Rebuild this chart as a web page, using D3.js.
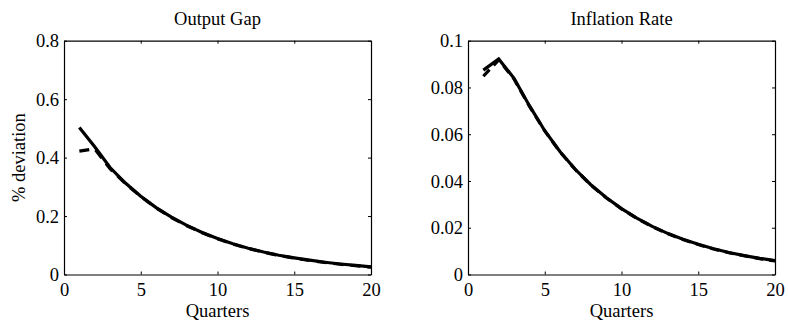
<!DOCTYPE html>
<html>
<head>
<meta charset="utf-8">
<script src="https://cdn.jsdelivr.net/npm/d3@7"></script>
<style>
  html, body { margin: 0; padding: 0; background: #fff; }
  svg { display: block; }
  svg text { font-family: "Liberation Serif", "Times New Roman", serif !important; fill: #000; }
</style>
</head>
<body>
<svg id="chart" width="788" height="324"></svg>
<script>
// Impulse responses over 20 quarters
const quarters = d3.range(1, 21);

// Output gap (% deviation)
const outputSolid = [0.503, 0.437, 0.366, 0.313, 0.268, 0.229, 0.196, 0.168, 0.144, 0.123,
                     0.105, 0.090, 0.077, 0.066, 0.057, 0.049, 0.042, 0.036, 0.031, 0.026];
const outputDashed = [0.422, 0.430, 0.362, 0.311, 0.267, 0.228, 0.195, 0.167, 0.143, 0.122,
                      0.104, 0.089, 0.076, 0.065, 0.056, 0.048, 0.041, 0.035, 0.030, 0.025];

// Inflation rate (% deviation)
const inflationSolid = [0.0874, 0.0922, 0.0839, 0.0722, 0.0615, 0.0525, 0.0449, 0.0384, 0.0329, 0.0282,
                        0.0241, 0.0206, 0.0176, 0.0151, 0.0129, 0.0110, 0.0094, 0.0081, 0.0069, 0.0059];
const inflationDashed = [0.0848, 0.0918, 0.0836, 0.0720, 0.0614, 0.0524, 0.0448, 0.0383, 0.0328, 0.0281,
                         0.0240, 0.0205, 0.0175, 0.0150, 0.0128, 0.0109, 0.0093, 0.0080, 0.0068, 0.0058];

const xTicks = [0, 5, 10, 15, 20];
const outputTicks = [0, 0.2, 0.4, 0.6, 0.8];
const outputTickLabels = ["0", "0.2", "0.4", "0.6", "0.8"];
const inflationTicks = [0, 0.02, 0.04, 0.06, 0.08, 0.1];
const inflationTickLabels = ["0", "0.02", "0.04", "0.06", "0.08", "0.1"];

const svg = d3.select("#chart");
const FONT = 18.5;
const TICK = 3;
const SERIF = '"Liberation Serif", "Times New Roman", serif';

function panel(opts) {
  const { left, right, top, bottom, title, yMax, yTicks, yLabels, solid, dashed, dash, yLabel, yLabelEnd } = opts;
  const x = d3.scaleLinear().domain([0, 20]).range([left, right]);
  const y = d3.scaleLinear().domain([0, yMax]).range([bottom, top]);
  const g = svg.append("g");

  const line = d3.line().x((d, i) => x(quarters[i])).y(d => y(d));

  g.append("path").datum(dashed)
    .attr("d", line).attr("fill", "none").attr("stroke", "#000")
    .attr("stroke-width", 3.2).attr("stroke-dasharray", dash);
  g.append("path").datum(solid)
    .attr("d", line).attr("fill", "none").attr("stroke", "#000")
    .attr("stroke-width", 3.2);

  // Inward ticks on all four sides (boxed axes)
  const axB = d3.axisBottom(x).tickValues(xTicks).tickSizeInner(-TICK).tickSizeOuter(0).tickFormat(d3.format("d"));
  const axT = d3.axisTop(x).tickValues(xTicks).tickSizeInner(-TICK).tickSizeOuter(0).tickFormat("");
  const axL = d3.axisLeft(y).tickValues(yTicks).tickSizeInner(-TICK).tickSizeOuter(0)
    .tickFormat((d, i) => yLabels[i]);
  const axR = d3.axisRight(y).tickValues(yTicks).tickSizeInner(-TICK).tickSizeOuter(0).tickFormat("");

  const gb = g.append("g").attr("transform", `translate(0,${bottom})`).call(axB);
  const gt = g.append("g").attr("transform", `translate(0,${top})`).call(axT);
  const gl = g.append("g").attr("transform", `translate(${left},0)`).call(axL);
  const gr = g.append("g").attr("transform", `translate(${right},0)`).call(axR);

  [gb, gt, gl, gr].forEach(a => {
    a.attr("font-family", SERIF).attr("font-size", FONT);
    a.select(".domain").attr("stroke", "#000").attr("stroke-width", 1.2);
    a.selectAll(".tick line").attr("stroke", "#000").attr("stroke-width", 1);
    a.selectAll("text").attr("fill", "#000");
  });
  gb.selectAll(".tick text").attr("y", 0).attr("dy", 0)
    .attr("transform", `translate(0,21.5)`);
  gl.selectAll(".tick text").attr("x", yLabelEnd - left).attr("dy", "0.33em");

  g.append("text").attr("x", (left + right) / 2).attr("y", 24.5)
    .attr("text-anchor", "middle").attr("font-size", FONT).text(title);
  g.append("text").attr("x", (left + right) / 2).attr("y", 316.5)
    .attr("text-anchor", "middle").attr("font-size", FONT).text("Quarters");
  if (yLabel) {
    g.append("text")
      .attr("transform", `translate(25,${(top + bottom) / 2}) rotate(-90)`)
      .attr("text-anchor", "middle").attr("font-size", FONT).text(yLabel);
  }
}

panel({
  left: 64, right: 371, top: 40.7, bottom: 274.5,
  title: "Output Gap", yMax: 0.8, yTicks: outputTicks, yLabels: outputTickLabels,
  solid: outputSolid, dashed: outputDashed, dash: "10,7",
  yLabel: "% deviation", yLabelEnd: 59
});

panel({
  left: 468, right: 775, top: 40.7, bottom: 274.5,
  title: "Inflation Rate", yMax: 0.1, yTicks: inflationTicks, yLabels: inflationTickLabels,
  solid: inflationSolid, dashed: inflationDashed, dash: "9,6",
  yLabel: null, yLabelEnd: 463
});
</script>
</body>
</html>
